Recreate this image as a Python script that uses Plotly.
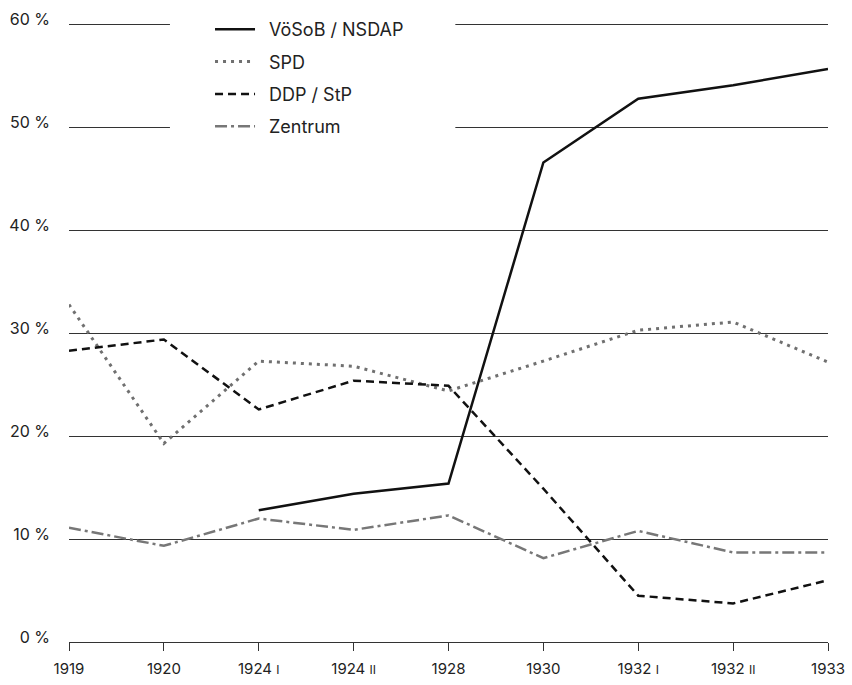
import plotly.graph_objects as go

categories = ["1919", "1920", "1924 I", "1924 II", "1928", "1930", "1932 I", "1932 II", "1933"]
tick_labels = ["1919", "1920", "1924 <span style='font-size:12px'>I</span>",
               "1924 <span style='font-size:12px'>II</span>", "1928", "1930",
               "1932 <span style='font-size:12px'>I</span>",
               "1932 <span style='font-size:12px'>II</span>", "1933"]
nsdap = [None, None, 12.8, 14.4, 15.4, 46.6, 52.8, 54.1, 55.7]
spd = [32.8, 19.3, 27.3, 26.8, 24.4, 27.3, 30.3, 31.1, 27.2]
ddp = [28.3, 29.4, 22.6, 25.4, 24.9, 14.9, 4.5, 3.75, 6.0]
zentrum = [11.1, 9.35, 12.0, 10.9, 12.3, 8.15, 10.8, 8.7, 8.7]
y_ticks = [0, 10, 20, 30, 40, 50, 60]

fig = go.Figure()
series = [
    ("VöSoB / NSDAP", nsdap, "#111111", "solid", 2.5),
    ("SPD", spd, "#707070", "3px,5px", 3),
    ("DDP / StP", ddp, "#111111", "8px,5px", 2.5),
    ("Zentrum", zentrum, "#777777", "12px,4px,3px,4px", 2.5),
]
for i, (name, vals, col, dash, w) in enumerate(series):
    fig.add_trace(go.Scatter(
        x=categories, y=vals, name="\u2002" + name, mode="lines",
        line=dict(color=col, dash=dash, width=w),
        connectgaps=False, cliponaxis=False, legendgroup=str(i),
    ))

fig.add_shape(type="rect", xref="paper", yref="paper",
              x0=0.133, x1=0.509, y0=0.82, y1=1.03,
              fillcolor="white", line=dict(width=0), layer="above")

fig.update_layout(
    width=852, height=685,
    margin=dict(l=69, r=24, t=23, b=43, autoexpand=False),
    paper_bgcolor="white", plot_bgcolor="white",
    font=dict(family="Inter", size=15, color="#222222"),
    showlegend=True,
    legend=dict(
        x=0.1858, y=1.0195, xanchor="left", yanchor="top",
        bgcolor="rgba(0,0,0,0)", font=dict(family="Inter", size=18, color="#222222"),
        tracegroupgap=6, itemwidth=40,
    ),
    xaxis=dict(
        type="category", range=[0, 8], tickvals=categories, ticktext=tick_labels,
        showgrid=False, showline=True, linecolor="#333333", linewidth=1,
        ticks="outside", ticklen=8, tickcolor="#333333", tickwidth=1,
        tickfont=dict(size=15), zeroline=False, ticklabelstandoff=5,
    ),
    yaxis=dict(
        range=[0, 60.16], tickvals=y_ticks, ticktext=[f"{v} %" for v in y_ticks],
        showgrid=True, gridcolor="#333333", gridwidth=1, zeroline=False,
        showline=False, ticks="", tickfont=dict(size=16),
        ticklabelstandoff=18, ticklabelshift=-5,
    ),
)
fig.write_html("out.html", post_script="document.body.style.margin='0';",
               config={"displayModeBar": False})
